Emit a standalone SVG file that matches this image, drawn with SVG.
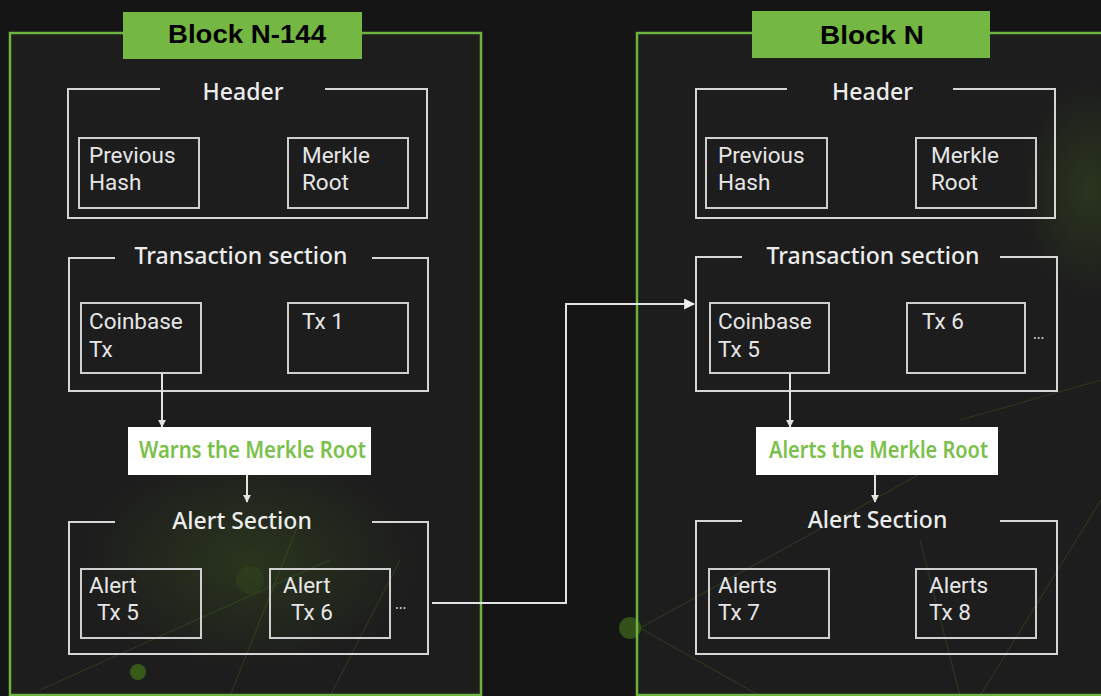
<svg xmlns="http://www.w3.org/2000/svg" width="1101" height="696" viewBox="0 0 1101 696">
<defs>
<style>
.bg{fill:#151515}
.inner{fill:#1d1d1d}
.frame{fill:none;stroke:#6cb33f;stroke-width:2.5}
.tab{fill:#74b843}
.title{font-family:"Liberation Sans",Arial,sans-serif;font-weight:bold;font-size:26px;fill:#000;text-anchor:middle}
.sec{fill:none;stroke:#d6d6d6;stroke-width:2}
.box{fill:none;stroke:#cfcfcf;stroke-width:2}
.lbl{font-family:"Noto Sans",sans-serif;font-size:23px;font-weight:500;fill:#ececec;text-anchor:middle}
.txt{font-family:Roboto,"Noto Sans",sans-serif;font-size:22.5px;fill:#e6e6e6}
.dots{font-family:"Noto Sans",sans-serif;font-size:14px;fill:#dddddd}
.note{fill:#ffffff}
.notetxt{font-family:"Noto Sans",sans-serif;font-size:23px;font-weight:600;fill:#7ac04b;text-anchor:middle}
.conn{fill:none;stroke:#e2e2e2;stroke-width:2}
.deco{stroke:#6a9a30;stroke-width:1.2;opacity:0.2;fill:none}
</style>
<marker id="arrS" viewBox="0 0 10 10" refX="9" refY="5" markerWidth="4" markerHeight="4" orient="auto" markerUnits="strokeWidth">
<path d="M0,0 L10,5 L0,10 z" fill="#e2e2e2"/>
</marker>
<marker id="arrL" viewBox="0 0 10 10" refX="9" refY="5" markerWidth="5.5" markerHeight="5.5" orient="auto" markerUnits="strokeWidth">
<path d="M0,0 L10,5 L0,10 z" fill="#f0f0f0"/>
</marker>
<radialGradient id="glow" cx="0.5" cy="0.5" r="0.5">
<stop offset="0" stop-color="#4f7a1e" stop-opacity="0.25"/>
<stop offset="1" stop-color="#4f7a1e" stop-opacity="0"/>
</radialGradient>
</defs>

<rect class="bg" x="0" y="0" width="1101" height="696"/>
<rect class="inner" x="10" y="33" width="471" height="663"/>
<rect class="inner" x="637" y="33" width="464" height="663"/>

<g id="background-deco">
<ellipse cx="250" cy="560" rx="170" ry="110" fill="url(#glow)"/>
<ellipse cx="1090" cy="190" rx="70" ry="110" fill="url(#glow)"/>
<path class="deco" d="M40,690 L330,560 M230,696 L300,520 M330,696 L400,560 M640,628 L1000,430 M640,628 L760,696 M920,540 L960,696 M1101,500 L980,696 M960,420 L1101,380"/>
<circle cx="138" cy="672" r="8" fill="#3f6a18" opacity="0.8"/>
<circle cx="630" cy="628" r="11" fill="#3f6a18" opacity="0.7"/>
<circle cx="250" cy="580" r="14" fill="#3f6a18" opacity="0.2"/>
</g>

<g id="block-n-144">
<rect class="frame" x="10" y="33" width="471" height="662"/>
<rect class="tab" x="123" y="12" width="239" height="47"/>
<text class="title" x="247" y="43" textLength="158" lengthAdjust="spacingAndGlyphs">Block N-144</text>
</g>

<g id="block-n">
<rect class="frame" x="637" y="33" width="480" height="662"/>
<rect class="tab" x="752" y="11" width="238" height="47"/>
<text class="title" x="872" y="44" textLength="104" lengthAdjust="spacingAndGlyphs">Block N</text>
</g>

<g id="l-header">
<path class="sec" d="M160,89 H68 V218 H427 V89 H325"/>
<text class="lbl" x="243" y="100">Header</text>
</g>
<g id="l-prevhash">
<rect class="box" x="79" y="138" width="120" height="70"/>
<text class="txt" x="89" y="163">Previous</text>
<text class="txt" x="89" y="190">Hash</text>
</g>
<g id="l-merkle">
<rect class="box" x="288" y="138" width="120" height="70"/>
<text class="txt" x="302" y="163">Merkle</text>
<text class="txt" x="302" y="190">Root</text>
</g>

<g id="l-tx-section">
<path class="sec" d="M115,258 H69 V391 H428 V258 H372"/>
<text class="lbl" x="241" y="264">Transaction section</text>
</g>
<g id="l-coinbase">
<rect class="box" x="81" y="303" width="120" height="70"/>
<text class="txt" x="89" y="329">Coinbase</text>
<text class="txt" x="89" y="357">Tx</text>
</g>
<g id="l-tx1">
<rect class="box" x="288" y="303" width="120" height="70"/>
<text class="txt" x="302" y="329">Tx 1</text>
</g>

<g id="l-warns">
<rect class="note" x="128" y="427" width="243" height="48"/>
<text class="notetxt" x="252.5" y="458" textLength="227" lengthAdjust="spacingAndGlyphs">Warns the Merkle Root</text>
</g>

<g id="l-alert-section">
<path class="sec" d="M115,522 H69 V654 H428 V522 H372"/>
<text class="lbl" x="242" y="529">Alert Section</text>
</g>
<g id="l-alert5">
<rect class="box" x="81" y="569" width="120" height="69"/>
<text class="txt" x="89" y="593">Alert</text>
<text class="txt" x="97" y="620">Tx 5</text>
</g>
<g id="l-alert6">
<rect class="box" x="270" y="569" width="120" height="69"/>
<text class="txt" x="283" y="593">Alert</text>
<text class="txt" x="291" y="620">Tx 6</text>
<text class="dots" x="395" y="609">...</text>
</g>

<g id="r-header">
<path class="sec" d="M787,89 H696 V218 H1055 V89 H953"/>
<text class="lbl" x="872.5" y="100">Header</text>
</g>
<g id="r-prevhash">
<rect class="box" x="706" y="138" width="121" height="70"/>
<text class="txt" x="718" y="163">Previous</text>
<text class="txt" x="718" y="190">Hash</text>
</g>
<g id="r-merkle">
<rect class="box" x="916" y="138" width="120" height="70"/>
<text class="txt" x="931" y="163">Merkle</text>
<text class="txt" x="931" y="190">Root</text>
</g>

<g id="r-tx-section">
<path class="sec" d="M742,257 H696 V391 H1057 V257 H1000"/>
<text class="lbl" x="873" y="264">Transaction section</text>
</g>
<g id="r-coinbase">
<rect class="box" x="710" y="303" width="119" height="70"/>
<text class="txt" x="718" y="329">Coinbase</text>
<text class="txt" x="718" y="357">Tx 5</text>
</g>
<g id="r-tx6">
<rect class="box" x="907" y="303" width="118" height="70"/>
<text class="txt" x="922" y="329">Tx 6</text>
<text class="dots" x="1033" y="339">...</text>
</g>

<g id="r-alerts">
<rect class="note" x="756" y="427" width="242" height="48"/>
<text class="notetxt" x="878.5" y="458" textLength="219" lengthAdjust="spacingAndGlyphs">Alerts the Merkle Root</text>
</g>

<g id="r-alert-section">
<path class="sec" d="M742,521 H696 V654 H1057 V521 H1000"/>
<text class="lbl" x="877.5" y="528">Alert Section</text>
</g>
<g id="r-alert7">
<rect class="box" x="709" y="569" width="120" height="69"/>
<text class="txt" x="718" y="593">Alerts</text>
<text class="txt" x="718" y="620">Tx 7</text>
</g>
<g id="r-alert8">
<rect class="box" x="916" y="569" width="120" height="69"/>
<text class="txt" x="929" y="593">Alerts</text>
<text class="txt" x="929" y="620">Tx 8</text>
</g>

<g id="connectors">
<path class="conn" d="M162,373 V427" marker-end="url(#arrS)"/>
<path class="conn" d="M247,475 V502" marker-end="url(#arrS)"/>
<path class="conn" d="M790,373 V427" marker-end="url(#arrS)"/>
<path class="conn" d="M875,475 V502" marker-end="url(#arrS)"/>
<path class="conn" d="M432,603 H566 V304 H694" marker-end="url(#arrL)"/>
</g>
</svg>
